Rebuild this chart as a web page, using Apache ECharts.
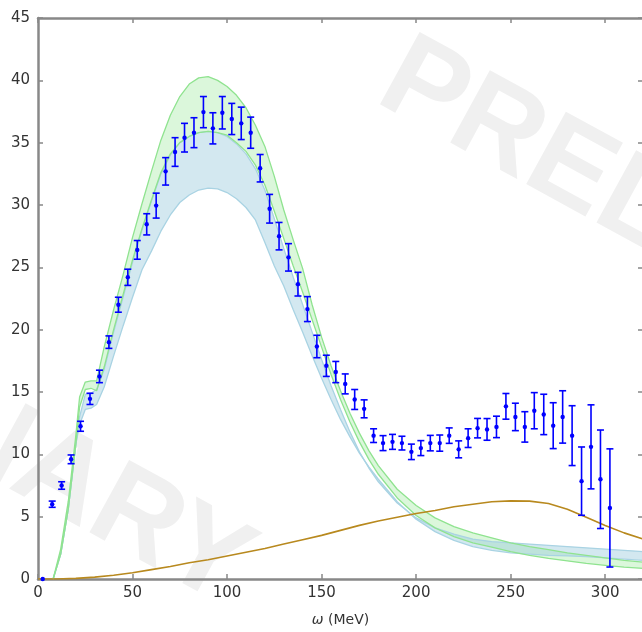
<!DOCTYPE html>
<html>
<head>
<meta charset="utf-8">
<script src="https://cdn.jsdelivr.net/npm/echarts@6.0.0/dist/echarts.min.js"></script>
<style>
html, body { margin: 0; padding: 0; overflow: hidden; background: #fff; }
#chart { width: 646px; height: 632px; }
</style>
</head>
<body>
<div id="chart"></div>
<script>
// measured points (omega in MeV)
var omega = [2.5, 7.5, 12.5, 17.5, 22.5, 27.5, 32.5, 37.5, 42.5, 47.5,
  52.5, 57.5, 62.5, 67.5, 72.5, 77.5, 82.5, 87.5, 92.5, 97.5,
  102.5, 107.5, 112.5, 117.5, 122.5, 127.5, 132.5, 137.5, 142.5, 147.5,
  152.5, 157.5, 162.5, 167.5, 172.5, 177.5, 182.5, 187.5, 192.5, 197.5,
  202.5, 207.5, 212.5, 217.5, 222.5, 227.5, 232.5, 237.5, 242.5, 247.5,
  252.5, 257.5, 262.5, 267.5, 272.5, 277.5, 282.5, 287.5, 292.5, 297.5, 302.5];
var measured = [0, 6.0, 7.5, 9.6, 12.25, 14.45, 16.25, 19.0, 22.0, 24.2,
  26.4, 28.45, 29.95, 32.7, 34.25, 35.4, 35.8, 37.45, 36.15, 37.4,
  36.9, 36.55, 35.8, 32.95, 29.7, 27.5, 25.8, 23.65, 21.65, 18.65,
  17.1, 16.6, 15.65, 14.4, 13.65, 11.5, 10.9, 11.0, 10.9, 10.2,
  10.5, 10.9, 10.9, 11.5, 10.4, 11.3, 12.1, 12.0, 12.2, 13.85,
  13.0, 12.2, 13.5, 13.2, 12.3, 13.0, 11.5, 7.85, 10.6, 8.0, 5.7];
var errors = [0, 0.25, 0.3, 0.35, 0.4, 0.45, 0.5, 0.5, 0.6, 0.65,
  0.75, 0.85, 1.0, 1.1, 1.15, 1.15, 1.2, 1.25, 1.25, 1.3,
  1.25, 1.3, 1.25, 1.1, 1.15, 1.1, 1.1, 0.95, 1.0, 0.9,
  0.85, 0.85, 0.8, 0.8, 0.72, 0.55, 0.6, 0.6, 0.55, 0.62,
  0.6, 0.62, 0.65, 0.62, 0.68, 0.75, 0.78, 0.87, 0.86, 1.03,
  1.1, 1.22, 1.45, 1.62, 1.84, 2.1, 2.4, 2.74, 3.37, 3.95, 4.74];

// theory bands
var bandX = [8, 12, 16, 20, 22, 25, 28, 31, 35, 40, 45, 50, 55, 60, 65, 70, 75, 80, 85, 90,
  95, 100, 105, 110, 115, 120, 125, 130, 135, 140, 145, 150, 155, 160, 165, 170, 175, 180,
  190, 200, 210, 220, 230, 240, 250, 260, 270, 280, 290, 300, 310, 320];
var greenHi = [0, 2.4, 6.2, 11.5, 14.6, 15.8, 15.9, 15.9, 18.6, 21.6, 24.4, 27.4, 30.1, 32.7, 35.2, 37.2, 38.7, 39.7, 40.2, 40.3,
  40.0, 39.5, 38.8, 37.8, 36.4, 34.7, 32.3, 29.6, 27.2, 24.9, 22.0, 19.4, 17.1, 15.1, 13.3, 11.7, 10.3, 9.1,
  7.2, 5.9, 4.9, 4.2, 3.7, 3.3, 2.9, 2.6, 2.35, 2.1, 1.9, 1.7, 1.5, 1.35];
var greenLo = [0, 2.0, 5.6, 10.8, 13.8, 15.2, 15.3, 15.1, 17.0, 20.0, 22.8, 25.6, 28.1, 30.4, 32.6, 34.1, 35.0, 35.5, 35.8, 35.9,
  35.8, 35.6, 35.0, 34.3, 33.2, 31.6, 29.5, 27.3, 25.1, 23.0, 20.8, 18.6, 16.4, 14.4, 12.6, 11.0, 9.6, 8.4,
  6.5, 5.1, 4.1, 3.4, 2.9, 2.55, 2.2, 1.9, 1.65, 1.45, 1.25, 1.1, 0.95, 0.85];
var blueHi = [0, 2.0, 5.6, 10.8, 13.0, 14.8, 14.9, 15.2, 16.8, 19.8, 22.6, 25.4, 28.0, 30.3, 32.5, 34.0, 35.0, 35.5, 35.8, 35.9,
  35.8, 35.5, 34.9, 34.1, 32.9, 31.2, 28.9, 26.5, 24.2, 22.0, 19.8, 17.6, 15.5, 13.6, 11.8, 10.2, 8.9, 7.8,
  6.1, 4.9, 4.1, 3.6, 3.2, 3.0, 2.9, 2.8, 2.7, 2.6, 2.5, 2.4, 2.3, 2.2];
var blueLo = [0, 2.0, 5.6, 10.8, 12.4, 13.6, 13.7, 14.0, 15.4, 17.9, 20.3, 22.6, 24.8, 26.3, 27.9, 29.2, 30.2, 30.8, 31.2, 31.35,
  31.3, 31.0, 30.5, 29.8, 28.8, 27.0, 25.1, 23.5, 21.6, 19.8, 17.9, 16.1, 14.4, 12.8, 11.4, 10.1, 9.0, 8.0,
  6.2, 4.8, 3.8, 3.1, 2.6, 2.3, 2.1, 2.0, 1.9, 1.85, 1.8, 1.7, 1.6, 1.5];

// brown curve
var brownX = [0, 10, 20, 30, 40, 50, 60, 70, 80, 90, 100, 110, 120, 130, 140, 150, 160,
  170, 180, 190, 200, 210, 220, 230, 240, 250, 260, 270, 280, 290, 300, 310, 320];
var brownY = [0, 0, 0.05, 0.15, 0.3, 0.5, 0.75, 1.0, 1.3, 1.55, 1.85, 2.15, 2.45, 2.8, 3.15, 3.5, 3.9,
  4.3, 4.65, 4.95, 5.25, 5.5, 5.8, 6.0, 6.2, 6.27, 6.25, 6.05, 5.6, 4.95, 4.3, 3.7, 3.2];

function pairs(xs, ys) {
  return xs.map(function (x, i) { return [x, ys[i]]; });
}

function bandSeries(hi, lo, fill) {
  return {
    type: 'custom',
    z: 1,
    silent: true,
    data: [[0, 0]],
    renderItem: function (params, api) {
      var pts = [];
      for (var i = 0; i < bandX.length; i++) pts.push(api.coord([bandX[i], hi[i]]));
      for (var j = bandX.length - 1; j >= 0; j--) pts.push(api.coord([bandX[j], lo[j]]));
      return { type: 'polygon', shape: { points: pts }, style: { fill: fill } };
    }
  };
}

function edge(ys, color, z) {
  return {
    type: 'line', data: pairs(bandX, ys), showSymbol: false, silent: true, z: z,
    lineStyle: { color: color, width: 1.3 }
  };
}

var font = 'DejaVu Sans';
var frame = { show: true, onZero: false, lineStyle: { color: '#888', width: 2.5 } };
var ticks = { show: true, inside: true, length: 5, lineStyle: { color: '#888', width: 1.5 } };
var mark = { fontSize: 120, fontWeight: 'bold', fontFamily: 'Liberation Sans', fill: '#f0f0f0', textVerticalAlign: 'bottom' };

var myChart = echarts.init(document.getElementById('chart'));
var option = {
  animation: false,
  backgroundColor: '#fff',
  grid: { left: 38, top: 18, right: 0, bottom: 44 },
  graphic: [
    { type: 'text', x: 360, y: 124, rotation: -0.5, z: -10, silent: true,
      style: Object.assign({ text: 'PRELIMINARY', textAlign: 'left' }, mark) },
    { type: 'text', x: 212, y: 630, rotation: -0.5, z: -10, silent: true,
      style: Object.assign({ text: 'PRELIMINARY', textAlign: 'right' }, mark) }
  ],
  xAxis: [{
    type: 'value', min: 0, max: 320, interval: 50, position: 'bottom',
    axisLine: frame, axisTick: ticks, splitLine: { show: false },
    axisLabel: { color: '#333', fontSize: 15, fontFamily: font, margin: 7,
      formatter: function (v) { return v % 50 === 0 ? v : ''; } },
    name: '{i|ω} (MeV)', nameLocation: 'middle', nameGap: 34,
    nameTextStyle: { color: '#333', fontSize: 14, fontFamily: font,
      rich: { i: { fontStyle: 'italic', fontSize: 14, fontFamily: font, color: '#333' } } }
  }, {
    type: 'value', min: 0, max: 320, interval: 50, position: 'top',
    axisLine: frame, axisTick: ticks, splitLine: { show: false }, axisLabel: { show: false }
  }],
  yAxis: [{
    type: 'value', min: 0, max: 45, interval: 5, position: 'left',
    axisLine: frame, axisTick: ticks, splitLine: { show: false },
    axisLabel: { color: '#333', fontSize: 15, fontFamily: font, margin: 8 }
  }, {
    type: 'value', min: 0, max: 45, interval: 5, position: 'right',
    axisLine: frame, axisTick: ticks, splitLine: { show: false }, axisLabel: { show: false }
  }],
  series: [
    bandSeries(greenHi, greenLo, 'rgba(152, 232, 152, 0.35)'),
    bandSeries(blueHi, blueLo, 'rgba(150, 200, 220, 0.42)'),
    edge(blueHi, '#a9d3e3', 2),
    edge(blueLo, '#a9d3e3', 2),
    edge(greenHi, '#8fe38f', 3),
    edge(greenLo, '#8fe38f', 3),
    {
      type: 'line', data: pairs(brownX, brownY), showSymbol: false, silent: true, z: 4,
      lineStyle: { color: '#b8891e', width: 1.6 }
    },
    {
      type: 'custom', z: 5, silent: true,
      data: omega.map(function (x, i) { return [x, measured[i], errors[i]]; }),
      renderItem: function (params, api) {
        var x = api.value(0), y = api.value(1), e = api.value(2);
        var c = api.coord([x, y]);
        var t = api.coord([x, y + e]);
        var b = api.coord([x, y - e]);
        var st = { stroke: '#0000ff', lineWidth: 1.6 };
        var kids = [];
        if (e > 0) {
          kids.push({ type: 'line', shape: { x1: c[0], y1: t[1], x2: c[0], y2: b[1] }, style: st });
          kids.push({ type: 'line', shape: { x1: c[0] - 3.5, y1: t[1], x2: c[0] + 3.5, y2: t[1] }, style: st });
          kids.push({ type: 'line', shape: { x1: c[0] - 3.5, y1: b[1], x2: c[0] + 3.5, y2: b[1] }, style: st });
        }
        kids.push({ type: 'circle', shape: { cx: c[0], cy: c[1], r: 2.2 }, style: { fill: '#0000ff' } });
        return { type: 'group', children: kids };
      }
    }
  ]
};
myChart.setOption(option);
</script>
</body>
</html>
